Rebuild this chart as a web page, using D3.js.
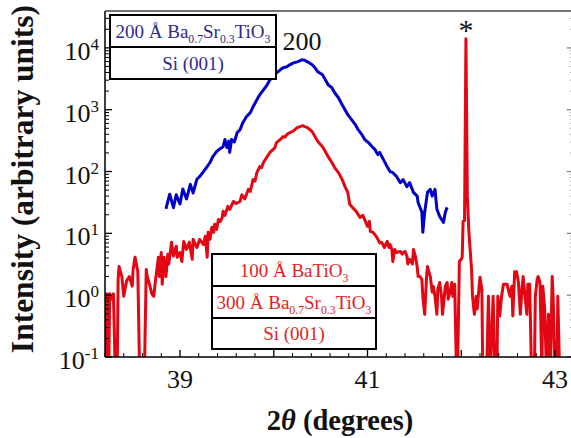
<!DOCTYPE html>
<html><head><meta charset="utf-8">
<script src="https://cdn.jsdelivr.net/npm/d3@7"></script>
<style>
body{margin:0;background:#fff}
svg{display:block}
text{font-family:"Liberation Serif","Times New Roman",serif}
</style>
</head><body>
<svg id="c" width="571" height="438"></svg>
<script>
// ---- data: [2theta (deg), intensity (arb. units)] ----
const blueScan = [
[38.85,25],[38.89,43],[38.93,26],[38.96,42],[39.00,30],[39.03,52],[39.07,36],[39.11,62],[39.14,45],[39.18,75],
[39.21,83],[39.25,100],[39.28,115],[39.32,140],[39.35,174],[39.39,210],[39.42,230],[39.46,252],[39.48,330],[39.50,245],
[39.52,310],[39.53,204],[39.55,330],[39.58,300],[39.61,426],[39.64,475],[39.67,617],[39.71,774],[39.75,896],[39.78,1120],
[39.82,1450],[39.85,1740],[39.89,2100],[39.93,2530],[39.96,3050],[39.99,3400],[40.03,3950],[40.07,4420],[40.10,4760],[40.14,4940],
[40.17,5320],[40.21,5730],[40.25,5950],[40.30,6410],[40.33,6300],[40.36,5950],[40.41,5320],[40.44,4760],[40.47,4100],[40.52,3670],
[40.55,3050],[40.58,2530],[40.62,2270],[40.65,1880],[40.69,1560],[40.73,1200],[40.76,1000],[40.79,830],[40.83,690],[40.87,575],
[40.90,475],[40.94,396],[40.97,330],[41.01,294],[41.05,252],[41.08,226],[41.11,188],[41.13,204],[41.17,156],[41.21,120],
[41.24,100],[41.27,96],[41.31,83],[41.35,66],[41.38,74],[41.42,57],[41.45,66],[41.49,46],[41.53,40],[41.54,31.6],
[41.58,21.9],[41.59,10.4],[41.61,21.9],[41.64,46],[41.67,51.6],[41.69,40],[41.72,51.6],[41.74,24.7],[41.77,18.7],[41.81,15],
[41.83,21.9],[41.85,26.3]
];
const redScan = [
[38.20,0.53],[38.21,0],[38.22,1.05],[38.24,0],[38.25,1.05],[38.27,0.86],[38.29,1.05],[38.31,0],[38.33,0],[38.34,1.8],
[38.35,2.9],[38.38,2.0],[38.40,0.96],[38.43,1.7],[38.46,2.0],[38.49,1.4],[38.50,2.6],[38.52,4.1],[38.54,2.9],[38.55,2.4],
[38.57,0],[38.62,0],[38.64,2.6],[38.65,2.0],[38.67,1.6],[38.70,1.05],[38.72,0.96],[38.74,1.8],[38.77,4.1],[38.78,2.0],
[38.80,4.9],[38.81,1.5],[38.83,4.1],[38.85,2.0],[38.87,4.6],[38.88,3.2],[38.91,7.2],[38.93,4.3],[38.96,6.2],[38.97,4.1],
[39.00,4.9],[39.02,3.5],[39.04,7.4],[39.07,5.5],[39.10,7.2],[39.13,3.8],[39.14,8.0],[39.18,5.9],[39.20,7.2],[39.21,8.0],
[39.25,6.6],[39.27,9.0],[39.29,4.1],[39.30,10.4],[39.32,8.0],[39.34,12.6],[39.36,10.4],[39.37,14],[39.39,11.6],[39.41,16.8],
[39.43,15.5],[39.45,18.1],[39.46,22.7],[39.48,19.5],[39.51,27.3],[39.53,24.3],[39.57,32.8],[39.60,30.4],[39.64,32.8],[39.66,42],
[39.69,36],[39.73,51.6],[39.75,47.7],[39.78,74.5],[39.80,70],[39.82,96],[39.85,120],[39.87,115],[39.89,140],[39.93,174],
[39.96,204],[39.99,226],[40.01,240],[40.03,294],[40.07,330],[40.10,367],[40.12,360],[40.14,396],[40.17,426],[40.20,442],
[40.25,513],[40.28,533],[40.31,552],[40.33,533],[40.36,513],[40.41,442],[40.44,367],[40.47,305],[40.52,252],[40.55,210],
[40.58,174],[40.62,140],[40.65,116],[40.69,96],[40.73,74.5],[40.76,57],[40.79,46],[40.81,29.5],[40.84,26.3],[40.88,22.7],
[40.92,18.1],[40.95,19.5],[41.00,13],[41.02,15.6],[41.03,10.8],[41.06,10.4],[41.10,8.6],[41.13,7.0],[41.15,7.2],[41.18,5.9],
[41.21,7.4],[41.23,5.9],[41.24,6.6],[41.26,5.5],[41.27,3.5],[41.29,5.5],[41.31,4.9],[41.35,5.1],[41.37,4.6],[41.38,4.9],
[41.40,5.1],[41.42,4.3],[41.43,3.2],[41.45,3.8],[41.48,3.2],[41.49,5.5],[41.51,4.3],[41.53,2.9],[41.54,2.0],[41.56,2.0],
[41.58,1.8],[41.59,0.96],[41.61,0.49],[41.63,2.0],[41.64,2.9],[41.67,2.0],[41.69,1.12],[41.70,1.4],[41.72,0.96],[41.74,0.49],
[41.75,1.25],[41.77,1.6],[41.79,0.93],[41.80,0.49],[41.83,1.4],[41.85,1.6],[41.86,0.86],[41.88,1.12],[41.90,1.6],[41.91,0.96],
[41.93,1.5],[41.95,0],[41.96,0],[41.98,3.5],[42.00,3.8],[42.01,4.1],[42.02,15.6],[42.035,16],[42.05,14000],[42.065,40],
[42.08,11.5],[42.11,2.6],[42.12,0.96],[42.14,0.49],[42.16,0.96],[42.17,0.6],[42.20,1.95],[42.22,1.25],[42.23,0],[42.27,0],
[42.29,0.96],[42.31,0],[42.34,0.96],[42.36,0],[42.38,0],[42.39,0.96],[42.41,0.46],[42.43,0.96],[42.45,1.5],[42.49,1.5],
[42.50,1.25],[42.52,0.96],[42.54,1.4],[42.55,0.46],[42.57,2.4],[42.59,2.4],[42.61,1.6],[42.63,0.49],[42.65,1.4],[42.66,2.0],
[42.68,0.96],[42.70,0.49],[42.71,1.5],[42.73,1.5],[42.75,0],[42.78,0],[42.79,0.96],[42.81,1.8],[42.82,2.0],[42.84,1.6],
[42.86,0],[42.87,1.4],[42.89,0.6],[42.91,0],[42.93,0.49],[42.95,0],[42.97,2.0],[42.98,0.96],[43.00,0],[43.02,0],
[43.03,0.96],[43.05,0]
];
const yMajorTicks = [0.1, 1, 10, 100, 1000, 10000];
const yTickExponents = ["-1", "0", "1", "2", "3", "4"];
const xLabelTicks = [39, 41, 43];
const xMajorTicks = [39, 40, 41, 42, 43];
const peakLabel = "200";
const siMarker = "*";
const blueStack = [["200 Å Ba", ["0.7"], "Sr", ["0.3"], "TiO", ["3"]], ["Si (001)"]];
const redStack = [["100 Å BaTiO", ["3"]], ["300 Å Ba", ["0.7"], "Sr", ["0.3"], "TiO", ["3"]], ["Si (001)"]];

// ---- layout ----
const L = 105, T = 11, R = 573.75, B = 357;
const RED = "#e30613", BLUE = "#0000c8";
const BOXBLUE = "#2b2b8c", BOXRED = "#e51e25";

const svg = d3.select("#c");
const x = d3.scaleLinear().domain([38.2, 43.2]).range([L, R]);
const y = d3.scaleLog().domain([0.1, 39500]).range([B, T]);

svg.append("defs").append("clipPath").attr("id", "clip")
  .append("rect").attr("x", L).attr("y", T).attr("width", R - L).attr("height", B - T);

const line = d3.line().x(d => x(d[0])).y(d => y(Math.max(d[1], 0.05)));
const g = svg.append("g").attr("clip-path", "url(#clip)");
g.append("path").datum(redScan).attr("d", line)
  .attr("fill", "none").attr("stroke", RED).attr("stroke-width", 3).attr("stroke-linejoin", "round");
g.append("path").datum(blueScan).attr("d", line)
  .attr("fill", "none").attr("stroke", BLUE).attr("stroke-width", 3).attr("stroke-linejoin", "round");

// ---- axes ----
const minorY = [];
for (let e = -1; e <= 4; e++) for (let m = 2; m <= 9; m++) { const v = m * Math.pow(10, e); if (v <= 39500) minorY.push(v); }
const minorX = d3.range(38.2, 43.2001, 0.2).map(v => +v.toFixed(1)).filter(v => !xMajorTicks.includes(v));

const ax = svg.append("g").attr("stroke-linecap", "butt");
ax.selectAll(".ylmaj").data(yMajorTicks).join("line")
  .attr("x1", L).attr("x2", L + 7).attr("y1", d => y(d)).attr("y2", d => y(d)).attr("stroke", "#000").attr("stroke-width", 1.3);
ax.selectAll(".ylmin").data(minorY).join("line")
  .attr("x1", L).attr("x2", L + 4).attr("y1", d => y(d)).attr("y2", d => y(d)).attr("stroke", "#000").attr("stroke-width", 1);
ax.selectAll(".yrmaj").data(yMajorTicks).join("line")
  .attr("x1", R).attr("x2", R - 7).attr("y1", d => y(d)).attr("y2", d => y(d)).attr("stroke", "#888").attr("stroke-width", 1.3);
ax.selectAll(".yrmin").data(minorY).join("line")
  .attr("x1", R).attr("x2", R - 4).attr("y1", d => y(d)).attr("y2", d => y(d)).attr("stroke", "#aaa").attr("stroke-width", 1);
ax.selectAll(".xmaj").data(xMajorTicks).join("line")
  .attr("x1", d => x(d)).attr("x2", d => x(d)).attr("y1", B).attr("y2", B - 7).attr("stroke", "#000").attr("stroke-width", 1.3);
ax.selectAll(".xmin").data(minorX).join("line")
  .attr("x1", d => x(d)).attr("x2", d => x(d)).attr("y1", B).attr("y2", B - 4).attr("stroke", "#000").attr("stroke-width", 1);
ax.append("line").attr("x1", L).attr("x2", L).attr("y1", T).attr("y2", B).attr("stroke", "#000").attr("stroke-width", 1.5);
ax.append("line").attr("x1", L).attr("x2", 571).attr("y1", B).attr("y2", B).attr("stroke", "#000").attr("stroke-width", 1.5);
ax.append("line").attr("x1", L).attr("x2", 571).attr("y1", T).attr("y2", T).attr("stroke", "#444").attr("stroke-width", 1.5);

// y tick labels
const yl = svg.selectAll(".ytl").data(yMajorTicks).join("text")
  .attr("x", 99).attr("y", d => y(d) + 12).attr("text-anchor", "end").attr("fill", "#111");
yl.append("tspan").attr("font-size", 26).text("10");
yl.append("tspan").attr("font-size", 17).attr("dy", -10).text((d, i) => yTickExponents[i]);
// x tick labels
svg.selectAll(".xtl").data(xLabelTicks).join("text")
  .attr("x", d => x(d)).attr("y", 388).attr("text-anchor", "middle").attr("font-size", 26).attr("fill", "#111").text(d => d);

// axis titles
const xt = svg.append("text").attr("x", (L + 571) / 2 + 2).attr("y", 430).attr("text-anchor", "middle")
  .attr("font-size", 28.5).attr("font-weight", "bold").attr("fill", "#111");
xt.append("tspan").text("2");
xt.append("tspan").attr("font-style", "italic").text("\u03B8");
xt.append("tspan").text(" (degrees)");
svg.append("text").attr("transform", "translate(33,179) rotate(-90)").attr("text-anchor", "middle")
  .attr("font-size", 31.5).attr("font-weight", "bold").attr("fill", "#111").text("Intensity (arbitrary units)");

// peak annotations
svg.append("text").attr("x", x(40.30)).attr("y", 50).attr("text-anchor", "middle").attr("font-size", 26).attr("fill", "#111").text(peakLabel);
svg.append("text").attr("x", x(42.05)).attr("y", 40).attr("text-anchor", "middle").attr("font-size", 30).attr("fill", "#111").text(siMarker);

// layer stacks
function stack(rows, bx, by, bw, rowH, color, fs) {
  const sg = svg.append("g");
  sg.append("rect").attr("x", bx).attr("y", by).attr("width", bw).attr("height", rowH.reduce((a, b) => a + b, 0))
    .attr("fill", "#fff").attr("stroke", "#000").attr("stroke-width", 2);
  let yy = by;
  rows.forEach((row, i) => {
    if (i > 0) sg.append("line").attr("x1", bx).attr("x2", bx + bw).attr("y1", yy).attr("y2", yy).attr("stroke", "#000").attr("stroke-width", 2);
    const t = sg.append("text").attr("x", bx + bw / 2).attr("y", yy + rowH[i] / 2 + 6.5)
      .attr("text-anchor", "middle").attr("font-size", fs).attr("fill", color);
    row.forEach(p => {
      if (Array.isArray(p)) t.append("tspan").attr("font-size", fs * 0.62).attr("dy", 5).text(p[0]);
      else {
        const prevSub = t.node().lastChild && t.node().lastChild.getAttribute("dy") === "5";
        t.append("tspan").attr("dy", prevSub ? -5 : 0).text(p);
      }
    });
    yy += rowH[i];
  });
}
stack(blueStack, 110, 15, 166, [32, 32], BOXBLUE, 19);
stack(redStack, 212, 254, 164, [32, 32, 31], BOXRED, 19);
</script>
</body></html>
